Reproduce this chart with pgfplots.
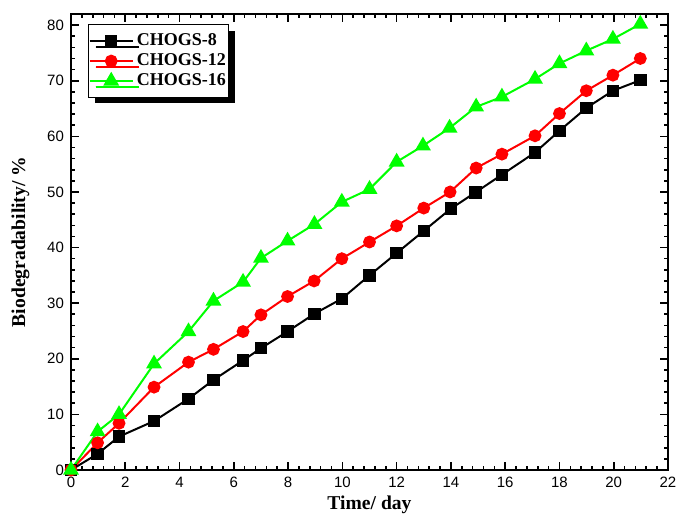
\documentclass[border=0pt]{standalone}
\usepackage{fontspec}
\setmainfont{Liberation Serif}
\newfontfamily\arial{Liberation Sans}
\usepackage{pgfplots}
\pgfplotsset{compat=1.18}
\usetikzlibrary{shadows}
\definecolor{cgreen}{RGB}{0,255,0}
\definecolor{cred}{RGB}{255,0,0}
\begin{document}
\begin{tikzpicture}
\begin{axis}[
  at={(0,0)}, anchor=origin,
  scale only axis,
  width=298.5pt, height=228pt,
  xmin=0, xmax=22, ymin=0, ymax=82,
  xtick={0,2,...,22}, ytick={0,10,...,80},
  minor x tick num=4, minor y tick num=4,
  tick align=inside,
  major tick length=4pt, minor tick length=2pt,
  axis line style={line width=1pt},
  every tick/.style={black, line width=0.8pt},
  tick label style={font=\arial\fontsize{7.5}{9}\selectfont},
  /pgf/number format/assume math mode=true,
  xlabel={\bfseries Time/ day},
  ylabel={\bfseries Biodegradability/ \%},
  label style={font=\fontsize{9.8}{11}\selectfont},
  xlabel style={yshift=3pt},
  ylabel style={yshift=2pt},
  legend style={at={(rel axis cs:0,1)}, anchor=north west, xshift=8.5pt, yshift=-5pt,
    draw=black, line width=0.6pt,
    fill=white, font=\bfseries\fontsize{9}{10}\selectfont,
    drop shadow={shadow xshift=3pt, shadow yshift=-3pt, fill=black, opacity=1},
    inner xsep=0pt, inner ysep=2.5pt, row sep=-1.5pt,
    nodes={inner xsep=1.5pt}},
  legend cell align=left,
  legend image code/.code={
    \draw[mark repeat=2,mark phase=2] plot coordinates {(-0.05cm,0cm) (0.33cm,0cm) (0.71cm,0cm)};
  },
]
\addplot[black, line width=1pt, mark=square*, mark size=2.6pt, mark options={solid}] coordinates {
(0,0) (0.98,2.9) (1.77,6.0) (3.06,8.8) (4.33,12.8) (5.25,16.2) (6.34,19.7) (7.0,21.9) (7.98,24.9) (8.97,28.1) (9.98,30.8) (11,35) (12,39) (13,43) (14,47) (14.9,49.9) (15.88,53.1) (17.1,57.1) (18.0,61.0) (18.99,65.1) (19.97,68.2) (20.98,70.1)
};
\addlegendentry{CHOGS-8}
\addplot[cred, line width=1pt, mark=*, mark size=2.7pt, mark options={solid}] coordinates {
(0,0) (0.98,4.9) (1.77,8.4) (3.06,14.9) (4.33,19.4) (5.25,21.7) (6.34,24.9) (7.0,27.9) (7.98,31.2) (8.96,34.0) (9.98,38.0) (11,41) (12,43.9) (13,47.1) (13.97,50.0) (14.93,54.3) (15.88,56.8) (17.1,60.1) (18.0,64.1) (18.99,68.2) (19.97,71.0) (20.98,74.0)
};
\addlegendentry{CHOGS-12}
\addplot[cgreen, line width=1pt, mark=triangle*, mark size=3.6pt, mark options={solid}] coordinates {
(0,0) (0.98,6.9) (1.77,10.0) (3.06,19.1) (4.33,24.9) (5.25,30.4) (6.34,33.8) (7.0,38.1) (7.98,41.2) (8.97,44.2) (9.98,48.2) (11,50.5) (12,55.4) (12.97,58.3) (13.95,61.5) (14.93,65.3) (15.88,67.1) (17.1,70.3) (18.0,73.1) (18.99,75.4) (19.97,77.5) (20.98,80.2)
};
\addlegendentry{CHOGS-16}
\end{axis}
\pgfresetboundingbox
\path (-35.5pt,-25.5pt) rectangle (302.5pt,235pt);
\end{tikzpicture}
\end{document}
